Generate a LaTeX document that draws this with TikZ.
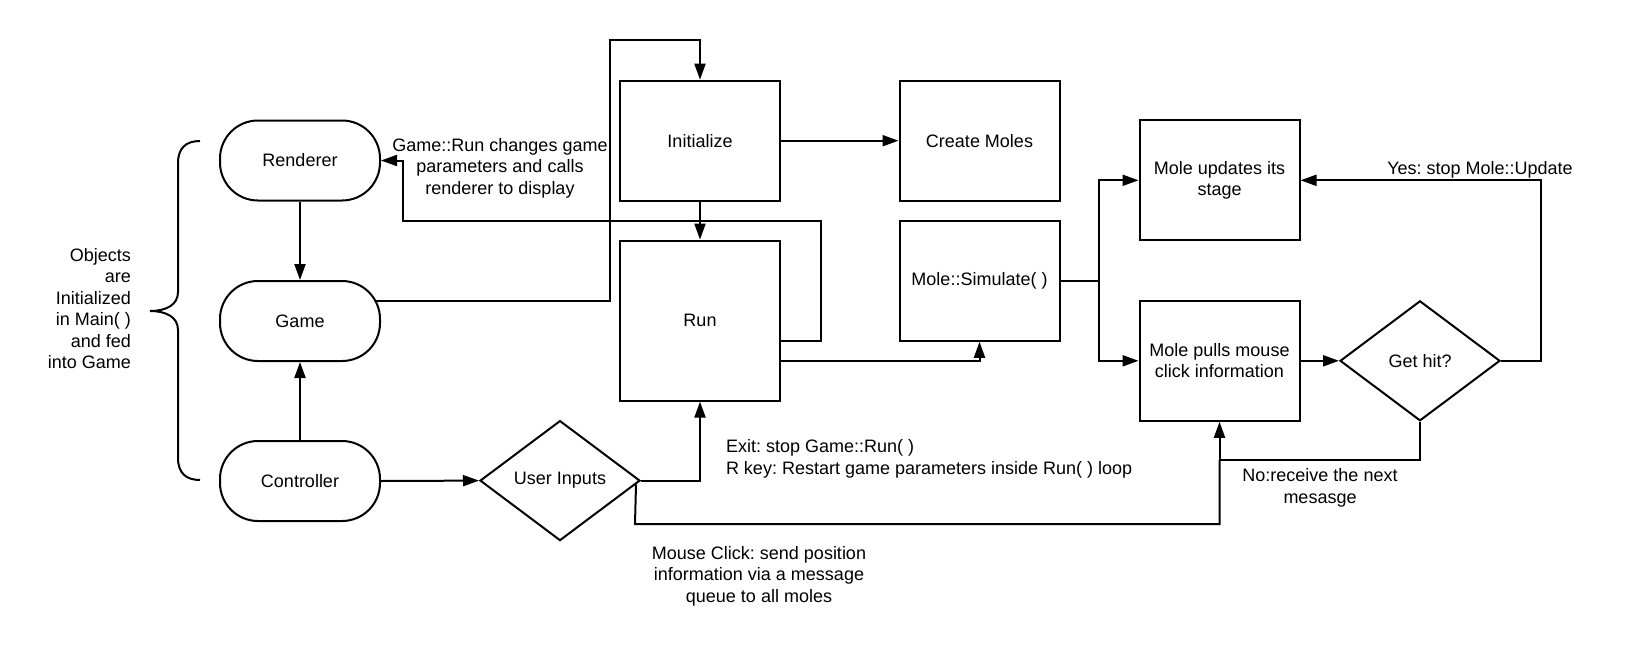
\documentclass[tikz,border=0pt]{standalone}
\usepackage{fontspec}
\setmainfont{Liberation Sans}
\usetikzlibrary{arrows.meta,shapes.geometric,calc}
\frenchspacing
\begin{document}
\begin{tikzpicture}[x=1pt,y=-1pt,
  line width=2pt,
  font=\fontsize{18}{21.5}\selectfont,
  arr/.style={-{Triangle[length=16pt,width=11pt]}},
  box/.style={draw,rectangle,minimum width=160pt,minimum height=120pt,align=center,inner sep=0pt},
  tallbox/.style={box,minimum height=160pt},
  pill/.style={draw,rectangle,rounded corners=38pt,minimum width=160pt,minimum height=80pt,inner sep=0pt},
  dia/.style={draw,diamond,minimum width=160pt,minimum height=120pt,inner sep=0pt,align=center},
  lbl/.style={inner sep=0pt,align=center}]
\useasboundingbox (0,0) rectangle (1640,656);

% nodes
\node[pill] (ren) at (300,160.5) {Renderer};
\node[pill] (game) at (300,321) {Game};
\node[pill] (ctrl) at (300,481) {Controller};
\node[box] (init) at (700,140.7) {Initialize};
\node[tallbox] (run) at (700,320.6) {Run};
\node[box] (create) at (979.5,140.7) {Create Moles};
\node[box] (sim) at (979.5,280.8) {Mole::Simulate( )};
\node[box] (upd) at (1219.5,180.3) {Mole updates its\\stage};
\node[box] (pull) at (1219.5,360.8) {Mole pulls mouse\\click information};
\node[dia] (hit) at (1420,360.8) {Get hit?};
\node[dia] (ui) at (560,480.6) {User Inputs};

% labels
\node[lbl,align=right,anchor=east] (objl) at (132,308.5) {Objects\\are\\Initialized\\in Main( )\\and fed\\into Game};
\node[lbl] (runl) at (500,168) {Game::Run changes game\\parameters and calls\\renderer to display};
\node[lbl,align=left,anchor=west] (exitl) at (725,458.6) {Exit: stop Game::Run( )\\R key: Restart game parameters inside Run( ) loop};
\node[lbl] (mousel) at (759,576) {Mouse Click: send position\\information via a message\\queue to all moles};
\node[lbl] (nol) at (1320,488) {No:receive the next\\mesasge};
\node[lbl] (yesl) at (1480,169.5) {Yes: stop Mole::Update};

% brace
\draw (200,141) .. controls (186,141) and (178,148) .. (178,163) -- (178,292)
  .. controls (178,305) and (166,311) .. (150,311)
  .. controls (166,311) and (178,317) .. (178,330) -- (178,458)
  .. controls (178,473) and (186,480) .. (200,480);

% connectors
\draw[arr] (ren.south) -- (game.north);
\draw[arr] (ctrl.north) -- (game.south);
\draw[arr] (ctrl.east) -- (ui.west);
\draw[arr] ($(game.center)+(74.6,-20)$) -- (610,301) -- (610,40) -- (700,40) -- (init.north);
\draw[arr] (init.south) -- (run.north);
\draw[arr] (init.east) -- (create.west);
\draw[arr] ($(run.east)+(0,20.4)$) -- (821,341) -- (821,221) -- (402.7,221) -- (402.7,160.5) -- (ren.east);
\draw[arr] ($(run.east)+(0,40.4)$) -| (sim.south);
\draw (sim.east) -- (1099,280.8) coordinate (split);
\draw[arr] (split) |- (upd.west);
\draw[arr] (split) |- (pull.west);
\draw[arr] (pull.east) -- (hit.west);
\draw[arr] (hit.east) -- (1540.6,360.8) |- (upd.east);
\draw[arr] (hit.south) -- (1420,460) -| (pull.south);
\draw[arr] (ui.east) -| (run.south);
\draw ($(ui.east)+(-5,3.75)$) -- (635,524) -| (1219.5,460);
\end{tikzpicture}
\end{document}
